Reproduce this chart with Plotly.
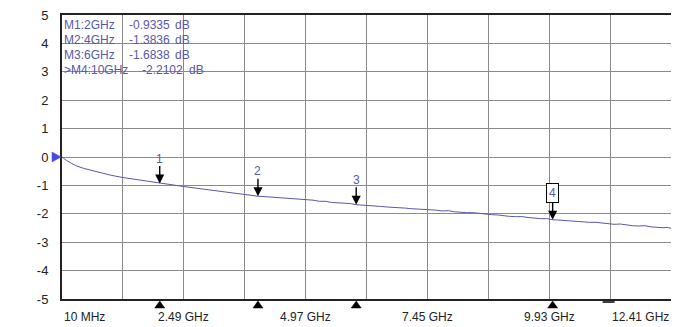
import plotly.graph_objects as go

# S21 trace (GHz, dB)
freq_ghz = [0.01, 0.1, 0.2, 0.3, 0.45, 0.6, 0.8, 1.0, 1.24, 1.5, 1.75, 2.0, 2.25, 2.49,
            2.75, 3.0, 3.25, 3.5, 3.75, 4.0, 4.25, 4.5, 4.75, 4.97, 5.12, 5.25, 5.38, 5.5,
            5.62, 5.75, 5.88, 6.0, 6.12, 6.25, 6.38, 6.5, 6.62, 6.75, 6.88, 7.0, 7.12, 7.25,
            7.38, 7.45, 7.62, 7.75, 7.88, 8.0, 8.12, 8.25, 8.38, 8.5, 8.62, 8.75, 8.88, 9.0,
            9.12, 9.25, 9.38, 9.5, 9.62, 9.75, 9.88, 10.0, 10.12, 10.25, 10.38, 10.5, 10.62,
            10.75, 10.88, 11.0, 11.12, 11.25, 11.38, 11.5, 11.62, 11.75, 11.88, 12.0, 12.12,
            12.25, 12.33, 12.41]
s21_db = [0.0, -0.12, -0.22, -0.31, -0.40, -0.47, -0.56, -0.64, -0.72, -0.79, -0.86, -0.93,
          -0.99, -1.04, -1.10, -1.16, -1.21, -1.27, -1.33, -1.38, -1.41, -1.44, -1.48, -1.51,
          -1.52, -1.56, -1.56, -1.60, -1.61, -1.64, -1.64, -1.68, -1.69, -1.71, -1.71, -1.74,
          -1.76, -1.77, -1.77, -1.80, -1.82, -1.83, -1.83, -1.86, -1.87, -1.90, -1.89, -1.93,
          -1.95, -1.96, -1.96, -1.99, -2.02, -2.03, -2.04, -2.07, -2.09, -2.10, -2.10, -2.13,
          -2.16, -2.17, -2.17, -2.21, -2.22, -2.24, -2.24, -2.27, -2.29, -2.30, -2.30, -2.33,
          -2.35, -2.37, -2.36, -2.40, -2.42, -2.43, -2.42, -2.46, -2.48, -2.49, -2.48, -2.51]

marker_names = ["1", "2", "3", "4"]
marker_freq = [2.0, 4.0, 6.0, 10.0]
marker_db = [-0.9335, -1.3836, -1.6838, -2.2102]
readout_rows = [["M1:2GHz", "-0.9335", "dB"],
                ["M2:4GHz", "-1.3836", "dB"],
                ["M3:6GHz", "-1.6838", "dB"],
                [">M4:10GHz", "-2.2102", "dB"]]

x_tick_vals = [0.01, 2.49, 4.97, 7.45, 9.93, 12.41]
x_tick_text = ["10 MHz", "2.49 GHz", "4.97 GHz", "7.45 GHz", "9.93 GHz", "12.41 GHz"]
y_tick_vals = [5, 4, 3, 2, 1, 0, -1, -2, -3, -4, -5]
y_tick_text = ["5", "4", "3", "2", "1", "0", "-1", "-2", "-3", "-4", "-5"]
stim_freq = [11.14]
ref_level = 0

TRACE = "#5858a8"
GRID = "#8a8a8a"
POINTER = "#4a4ae0"
FONT = "Liberation Sans, Arial, sans-serif"

fig = go.Figure()
fig.add_trace(go.Scatter(x=freq_ghz, y=s21_db, mode="lines",
                         line=dict(color=TRACE, width=1), hoverinfo="skip"))


def pix_shape(xv, yv, path, color, xref="x", yref="y", fill=True):
    fig.add_shape(type="path", xref=xref, yref=yref, xsizemode="pixel", ysizemode="pixel",
                  xanchor=xv, yanchor=yv, path=path,
                  fillcolor=color if fill else None,
                  line=dict(color=color, width=1.5 if not fill else 0.5))


# marker triangles below the frame
for f in marker_freq:
    pix_shape(f, 0, "M -5 -9 L 5 -9 L 0 -2 Z", "black", yref="paper")
for f in stim_freq:
    pix_shape(f, 0, "M -6 -3 L 6 -3", "black", yref="paper", fill=False)
# reference level pointers on both sides of the grid
pix_shape(0, ref_level, "M -10 5 L -10 -5 L -1 0 Z", POINTER, xref="paper")
fig.add_annotation(x=1, y=ref_level, xref="paper", yref="y", text="\u25c0", showarrow=False,
                   xanchor="left", yanchor="middle", xshift=-1,
                   font=dict(family="DejaVu Sans", size=10, color=POINTER))

for name, f, v in zip(marker_names, marker_freq, marker_db):
    boxed = name == "4"
    fig.add_annotation(x=f, y=v, text=name, showarrow=True, ax=0, ay=-27 if boxed else -25,
                       arrowhead=2, arrowsize=1.3, arrowwidth=1.4, arrowcolor="black",
                       font=dict(family=FONT, size=12, color=TRACE),
                       bordercolor="black" if boxed else "rgba(0,0,0,0)",
                       borderwidth=1, borderpad=2 if boxed else 0,
                       bgcolor="white" if boxed else None)

# marker readout table
col_x = [[62, 127, 173], [62, 127, 173], [62, 127, 173], [62, 140, 187]]
for i, row in enumerate(readout_rows):
    for j, txt in enumerate(row):
        fig.add_annotation(x=(col_x[i][j] - 62) / 609, y=1 - (10 + 15 * i) / 284,
                           xref="paper", yref="paper", text=txt, showarrow=False,
                           xanchor="left", yanchor="middle",
                           font=dict(family=FONT, size=12, color=TRACE))

# frequency labels
for k, (v, t) in enumerate(zip(x_tick_vals, x_tick_text)):
    anchor = "left" if k == 0 else ("right" if k == len(x_tick_vals) - 1 else "center")
    fig.add_annotation(x=v, y=0, xref="x", yref="paper", yshift=-18, text=t,
                       showarrow=False, xanchor=anchor, yanchor="middle",
                       font=dict(family=FONT, size=12, color="#222222"))

# page body keeps its default 8px margin, so the plot area is shifted to compensate
fig.update_layout(
    width=679, height=319,
    margin=dict(l=54, r=16, t=7, b=28, autoexpand=False),
    plot_bgcolor="white", paper_bgcolor="white",
    showlegend=False,
    xaxis=dict(range=[0.01, 12.41], tick0=0.01, dtick=1.24, showgrid=True, automargin=False,
               gridcolor=GRID, gridwidth=1, showticklabels=False, zeroline=False,
               showline=True, linecolor="#222222", linewidth=2, mirror=True, ticks=""),
    yaxis=dict(range=[-5, 5], tickvals=y_tick_vals, ticktext=y_tick_text, showgrid=True,
               gridcolor=GRID, gridwidth=1, automargin=False, ticklabeloverflow="allow",
               zeroline=False, showline=True, linecolor="#222222", linewidth=2, mirror=True,
               ticks="", ticklabelstandoff=9,
               tickfont=dict(family=FONT, size=13, color="#222222")),
)

fig.write_html("out.html")
